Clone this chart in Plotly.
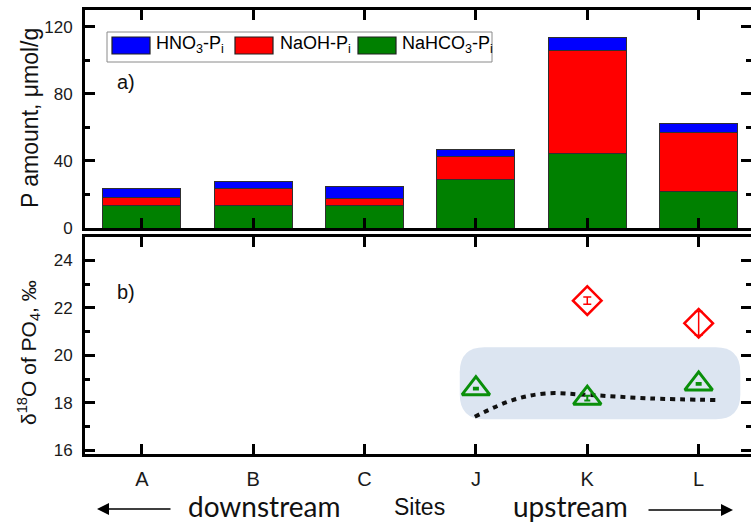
import plotly.graph_objects as go

# Sampling sites (ordered downstream -> upstream)
sites = ["A", "B", "C", "J", "K", "L"]
site_pos = [0, 1, 2, 3, 4, 5]

# a) Inorganic P pools, µmol/g (stacked)
nahco3_pi = [13.7, 13.7, 13.7, 28.7, 44.2, 21.7]
naoh_pi = [4.6, 10.0, 4.0, 13.9, 61.7, 35.2]
hno3_pi = [5.4, 4.0, 7.0, 4.0, 7.7, 5.6]

# b) δ18O of phosphate, ‰
tri_pos = [3, 4, 5]
tri_d18o = [18.6, 18.2, 18.8]
tri_err = [0.04, 0.1, 0.04]

dia_pos = [4, 5]
dia_d18o = [22.3, 21.35]
dia_err = [0.15, 0.5]

# equilibrium curve
eq_pos = [2.99, 3.33, 3.63, 4.02, 4.56, 5.16]
eq_d18o = [17.42, 18.12, 18.40, 18.33, 18.19, 18.12]

# shaded equilibrium band (data units of panel b)
band_x0, band_x1 = 2.855, 5.374
band_y0, band_y1 = 17.31, 20.34
band_rx, band_ry = 0.22, 1.05

W, H = 751, 523
ML, MR, MT, MB = 85, 0, 10, 69
PW, PH = W - ML - MR, H - MT - MB


def px(xp):
    return (xp - ML) / PW


def py(yp):
    return (H - MB - yp) / PH


XRANGE = [-0.51, 5.47]
TICKFONT = dict(family="Liberation Sans, Arial", size=17, color="#1a1a1a")
bar_line = dict(color="#303030", width=1)

fig = go.Figure()

fig.add_trace(go.Bar(x=site_pos, y=nahco3_pi, width=0.7, marker=dict(color="#008000", line=bar_line),
                     xaxis="x", yaxis="y", showlegend=False, hoverinfo="skip"))
fig.add_trace(go.Bar(x=site_pos, y=naoh_pi, width=0.7, marker=dict(color="#ff0000", line=bar_line),
                     xaxis="x", yaxis="y", showlegend=False, hoverinfo="skip"))
fig.add_trace(go.Bar(x=site_pos, y=hno3_pi, width=0.7, marker=dict(color="#0000ff", line=bar_line),
                     xaxis="x", yaxis="y", showlegend=False, hoverinfo="skip"))

# right-hand tick carriers
fig.add_trace(go.Scatter(x=[], y=[], xaxis="x", yaxis="y3", showlegend=False))
fig.add_trace(go.Scatter(x=[], y=[], xaxis="x2", yaxis="y4", showlegend=False))

fig.add_trace(go.Scatter(x=eq_pos, y=eq_d18o, mode="lines", line=dict(color="#111", width=4, dash="5px,5px",
                         shape="spline", smoothing=1.0), xaxis="x2", yaxis="y2", showlegend=False,
                         hoverinfo="skip"))

fig.add_trace(go.Scatter(x=tri_pos, y=tri_d18o, mode="markers",
                         marker=dict(symbol="triangle-up-open", size=24, color="#0a8f0a", line=dict(width=3)),
                         error_y=dict(type="data", array=tri_err, color="#0a8f0a", thickness=2, width=3),
                         xaxis="x2", yaxis="y2", showlegend=False, hoverinfo="skip"))

fig.add_trace(go.Scatter(x=dia_pos, y=dia_d18o, mode="markers",
                         marker=dict(symbol="diamond-open", size=22, color="#ff0000", line=dict(width=2.5)),
                         error_y=dict(type="data", array=dia_err, color="#ff0000", thickness=1.5, width=4),
                         xaxis="x2", yaxis="y2", showlegend=False, hoverinfo="skip"))

common_x = dict(range=XRANGE, tickvals=site_pos, showline=True, linewidth=3, linecolor="black",
                mirror="ticks", ticks="inside", ticklen=10, tickwidth=2.5, tickcolor="black",
                showgrid=False, zeroline=False)
common_y = dict(showline=True, linewidth=3, linecolor="black", ticks="inside", ticklen=10,
                tickwidth=2.5, tickcolor="black", showgrid=False, zeroline=False, tickfont=TICKFONT,
                ticklabelstandoff=6)

top_dom = [py(228), 1.0]
bot_dom = [0.0, py(236.5)]

fig.update_layout(
    width=W, height=H,
    margin=dict(l=ML, r=MR, t=MT, b=MB),
    paper_bgcolor="white", plot_bgcolor="white",
    barmode="stack",
    xaxis=dict(domain=[0, 1], anchor="y", showticklabels=False, **common_x),
    yaxis=dict(domain=top_dom, anchor="x", range=[0, 130], tick0=0, dtick=40,
               minor=dict(ticks="inside", ticklen=5, tickwidth=2.5, tickcolor="black", dtick=20, tick0=0),
               **common_y),
    xaxis2=dict(domain=[0, 1], anchor="y2", ticktext=sites, showticklabels=True,
                tickfont=dict(family="Liberation Sans, Arial", size=20, color="#1a1a1a"),
                ticklabelstandoff=5, **common_x),
    yaxis2=dict(domain=bot_dom, anchor="x2", range=[15.85, 25.0], tick0=16, dtick=2,
                minor=dict(ticks="inside", ticklen=5, tickwidth=2.5, tickcolor="black", dtick=1, tick0=16),
                **common_y),
    yaxis3=dict(overlaying="y", side="right", anchor="x", range=[0, 130], tick0=0, dtick=40,
                showline=False, showgrid=False, zeroline=False, showticklabels=False,
                ticks="inside", ticklen=10, tickwidth=2.5, tickcolor="black",
                minor=dict(ticks="inside", ticklen=5, tickwidth=2.5, tickcolor="black", dtick=20, tick0=0)),
    yaxis4=dict(overlaying="y2", side="right", anchor="x2", range=[15.85, 25.0], tick0=16, dtick=2,
                showline=False, showgrid=False, zeroline=False, showticklabels=False,
                ticks="inside", ticklen=10, tickwidth=2.5, tickcolor="black",
                minor=dict(ticks="inside", ticklen=5, tickwidth=2.5, tickcolor="black", dtick=1, tick0=16)),
)

# shaded band behind the isotope data
x0, x1, y0, y1, rx, ry = band_x0, band_x1, band_y0, band_y1, band_rx, band_ry
band_path = (f"M {x0+rx},{y0} L {x1-rx},{y0} Q {x1},{y0} {x1},{y0+ry} "
             f"L {x1},{y1-ry} Q {x1},{y1} {x1-rx},{y1} "
             f"L {x0+rx},{y1} Q {x0},{y1} {x0},{y1-ry} "
             f"L {x0},{y0+ry} Q {x0},{y0} {x0+rx},{y0} Z")
fig.add_shape(type="path", path=band_path, xref="x2", yref="y2", fillcolor="#dce5f1",
              line=dict(width=0), layer="below")

# legend box for panel a
fig.add_shape(type="rect", xref="paper", yref="paper", x0=px(107), x1=px(492), y0=py(62), y1=py(32),
              line=dict(color="#8a8a8a", width=1), fillcolor="white")
legend_items = [("#0000ff", "HNO<sub>3</sub>-P<sub>i</sub>", 112, 154),
                ("#ff0000", "NaOH-P<sub>i</sub>", 235, 278),
                ("#008000", "NaHCO<sub>3</sub>-P<sub>i</sub>", 358, 400)]
for color, label, sx, tx in legend_items:
    fig.add_shape(type="rect", xref="paper", yref="paper", x0=px(sx), x1=px(sx + 38),
                  y0=py(54), y1=py(37), fillcolor=color, line=dict(color="#202020", width=1.2))
    fig.add_annotation(x=px(tx), y=py(45), xref="paper", yref="paper", text=label, showarrow=False,
                       xanchor="left", yanchor="middle",
                       font=dict(family="Liberation Sans, Arial", size=18, color="black"))

LABELFONT = dict(family="Liberation Sans, Arial", size=20, color="#111")
fig.add_annotation(x=px(115), y=py(82), xref="paper", yref="paper", text="a)", showarrow=False,
                   xanchor="left", yanchor="middle", font=LABELFONT)
fig.add_annotation(x=px(115), y=py(292), xref="paper", yref="paper", text="b)", showarrow=False,
                   xanchor="left", yanchor="middle", font=LABELFONT)

# axis titles
fig.add_annotation(x=px(30), y=py(118), xref="paper", yref="paper", text="P amount, \u03bcmol/g",
                   textangle=-90, showarrow=False, xanchor="center", yanchor="middle",
                   font=dict(family="Liberation Sans, Arial", size=23, color="#111"))
fig.add_annotation(x=px(28), y=py(353), xref="paper", yref="paper",
                   text="\u03b4<sup>18</sup>O of PO<sub>4</sub>, \u2030",
                   textangle=-90, showarrow=False, xanchor="center", yanchor="middle",
                   font=dict(family="Liberation Sans, Arial", size=21, color="#111"))

# flow direction labels
FLOWFONT = dict(family="Lato", size=28, color="#111")
fig.add_annotation(x=px(264), y=py(506), xref="paper", yref="paper", text="downstream", showarrow=False,
                   xanchor="center", yanchor="middle", font=FLOWFONT)
fig.add_annotation(x=px(570), y=py(506), xref="paper", yref="paper", text="upstream", showarrow=False,
                   xanchor="center", yanchor="middle", font=FLOWFONT)
fig.add_annotation(x=px(419), y=py(507), xref="paper", yref="paper", text="Sites", showarrow=False,
                   xanchor="center", yanchor="middle",
                   font=dict(family="Liberation Sans, Arial", size=23, color="#111"))

fig.add_annotation(x=px(97), y=py(509), xref="paper", yref="paper", text="", showarrow=True,
                   ax=75, ay=0, axref="pixel", ayref="pixel", arrowhead=2, arrowsize=1.6,
                   arrowwidth=1.5, arrowcolor="black")
fig.add_annotation(x=px(733), y=py(510), xref="paper", yref="paper", text="", showarrow=True,
                   ax=-86, ay=0, axref="pixel", ayref="pixel", arrowhead=2, arrowsize=1.6,
                   arrowwidth=1.5, arrowcolor="black")

fig.write_html("out.html")
